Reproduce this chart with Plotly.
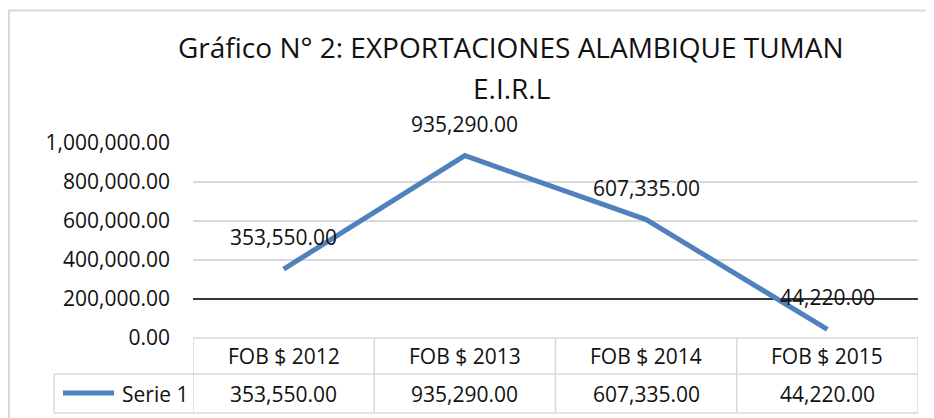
import plotly.graph_objects as go

# ---- data ----
categories = ["FOB $ 2012", "FOB $ 2013", "FOB $ 2014", "FOB $ 2015"]
values = [353550.00, 935290.00, 607335.00, 44220.00]
series_name = "Serie 1"
title_lines = ["Gráfico N° 2: EXPORTACIONES ALAMBIQUE TUMAN", "E.I.R.L"]
y_ticks = [0, 200000, 400000, 600000, 800000, 1000000]
axis_cross = 200000

# ---- style ----
FONT = "Open Sans, sans-serif"
FS = 21
BLUE = "#4F81BD"
GRID = "#D9D9D9"
TXT = "#111111"

OFF = 8  # page body margin
W, H = 934 - OFF, 418 - OFF
L, R, T, B = 193 - OFF, 16, 143 - OFF, 80
PW = W - L - R
PH = H - T - B


def px_x(px):
    return (px - OFF - L) / PW


def px_y(py):
    return (H - B - (py - OFF)) / PH


n = len(categories)
fig = go.Figure()
x_idx = list(range(n))
# horizontal category axis line crossing the value axis at axis_cross
fig.add_trace(go.Scatter(
    x=[-0.5, n - 0.5], y=[axis_cross, axis_cross], mode="lines",
    line=dict(color="#000000", width=1.5),
    showlegend=False, hoverinfo="skip",
))
fig.add_trace(go.Scatter(
    x=x_idx, y=values, mode="lines",
    line=dict(color=BLUE, width=5),
    showlegend=False, cliponaxis=False, hoverinfo="skip",
))

annotations = []
# data labels
for i, v in zip(x_idx, values):
    annotations.append(dict(
        x=i, y=v, xref="x", yref="y", text=f"{v:,.2f}", showarrow=False,
        yshift=32, font=dict(family=FONT, size=FS, color=TXT),
        xanchor="center", yanchor="middle",
    ))

# title
for line, yy in zip(title_lines, (47, 88)):
    annotations.append(dict(x=px_x(511), y=px_y(yy), xref="paper", yref="paper",
                            text=line, showarrow=False,
                            font=dict(family=FONT, size=28, color=TXT),
                            xanchor="center", yanchor="middle"))

# data table text
for i, (c, v) in enumerate(zip(categories, values)):
    annotations.append(dict(x=i, y=px_y(356), xref="x", yref="paper", text=c,
                            showarrow=False, font=dict(family=FONT, size=FS, color=TXT),
                            xanchor="center", yanchor="middle"))
    annotations.append(dict(x=i, y=px_y(394), xref="x", yref="paper", text=f"{v:,.2f}",
                            showarrow=False, font=dict(family=FONT, size=FS, color=TXT),
                            xanchor="center", yanchor="middle"))
annotations.append(dict(x=px_x(120), y=px_y(394), xref="paper", yref="paper", text=series_name,
                        showarrow=False, font=dict(family=FONT, size=FS, color=TXT),
                        xanchor="left", yanchor="middle"))

shapes = []
# outer frame
shapes.append(dict(type="rect", xref="paper", yref="paper",
                   x0=px_x(9), x1=px_x(945), y0=px_y(430), y1=px_y(10.5),
                   line=dict(color=GRID, width=2), layer="below"))
# table lines
tl = dict(color=GRID, width=1.5)
shapes.append(dict(type="line", xref="x", yref="paper", x0=-0.5, x1=n - 0.5,
                   y0=px_y(338), y1=px_y(338), line=tl))
for yy in (374, 413):
    shapes.append(dict(type="line", xref="paper", yref="paper", x0=px_x(54), x1=1,
                       y0=px_y(yy), y1=px_y(yy), line=tl))
shapes.append(dict(type="line", xref="paper", yref="paper", x0=px_x(54), x1=px_x(54),
                   y0=px_y(374), y1=px_y(413), line=tl))
for k in range(n + 1):
    shapes.append(dict(type="line", xref="x", yref="paper", x0=k - 0.5, x1=k - 0.5,
                       y0=px_y(338), y1=px_y(413), line=tl))
# legend key
shapes.append(dict(type="line", xref="paper", yref="paper", x0=px_x(63), x1=px_x(114),
                   y0=px_y(393), y1=px_y(393), line=dict(color=BLUE, width=5)))

fig.update_layout(
    width=W, height=H,
    margin=dict(l=L, r=R, t=T, b=B, pad=0),
    paper_bgcolor="white", plot_bgcolor="white",
    showlegend=False,
    annotations=annotations, shapes=shapes,
    xaxis=dict(range=[-0.5, n - 0.5], showticklabels=False, showgrid=False,
               zeroline=False, showline=False, ticks=""),
    yaxis=dict(range=[0, 1000000], tickvals=y_ticks, tickformat=",.2f",
               showgrid=True, gridcolor=GRID, gridwidth=1.5, zeroline=False,
               showline=False, ticks="", ticklabelstandoff=22,
               tickfont=dict(family=FONT, size=FS, color=TXT)),
)

fig.write_html("out.html")
